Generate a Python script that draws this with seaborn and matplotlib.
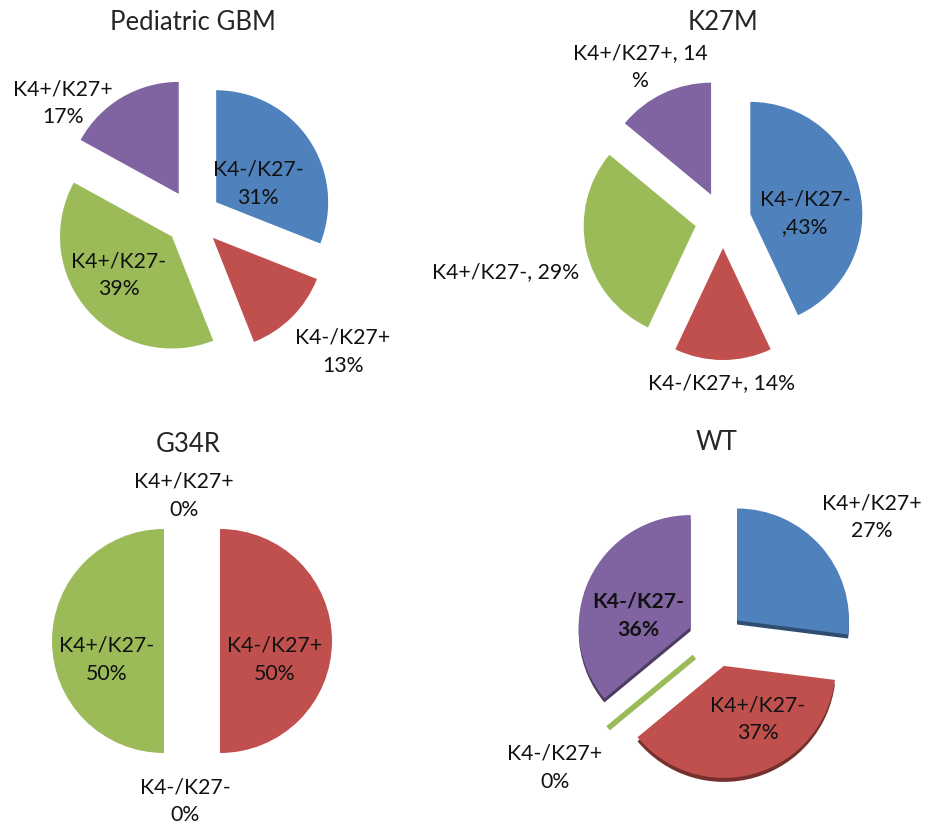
import matplotlib.pyplot as plt
import seaborn as sns

sns.set_theme(style='white')
plt.rcParams['font.family'] = ['Lato', 'DejaVu Sans']

# data
categories = ['K4-/K27-', 'K4-/K27+', 'K4+/K27-', 'K4+/K27+']
gbm_values = [31, 13, 39, 17]
k27m_values = [43, 14, 29, 14]
g34r_values = [0, 50, 50, 0]
wt_categories = ['K4+/K27+', 'K4+/K27-', 'K4-/K27+', 'K4-/K27-']
wt_values = [27, 37, 0, 36]
titles = ['Pediatric GBM', 'K27M', 'G34R', 'WT']

palette = sns.color_palette(['#4F81BD', '#C0504D', '#9BBB59', '#8064A2'])
dark_palette = [tuple(v * 0.6 for v in c) for c in palette]

W, H = 933, 826
R = 112
EXPLODE = 28
LABEL_SIZE = 15.3
TITLE_SIZE = 18.5


def draw_pie(ax, values, cx, cy, colors=palette, zero_line=False):
    wedges, _ = ax.pie(values, colors=colors, startangle=90, counterclock=False,
                       explode=[EXPLODE] * len(values), radius=R, center=(cx, H - cy),
                       wedgeprops=dict(linewidth=0))
    if zero_line:
        for w, v, c in zip(wedges, values, colors):
            if v == 0:
                w.set_edgecolor(c)
                w.set_linewidth(4)
    return wedges


def label(ax, x, y, s, **kw):
    ax.text(x, H - y, s, ha='center', va='center', fontsize=LABEL_SIZE,
            color='#111111', linespacing=1.5, **kw)


fig = plt.figure(figsize=(W / 100, H / 100), dpi=100)
ax = fig.add_axes([0, 0, 1, 1])

# Pediatric GBM
draw_pie(ax, gbm_values, 193, 218)
ax.text(193, H - 22, titles[0], ha='center', va='center', fontsize=TITLE_SIZE)
label(ax, 258, 184, '{}\n{}%'.format(categories[0], gbm_values[0]))
label(ax, 343, 352, '{}\n{}%'.format(categories[1], gbm_values[1]))
label(ax, 119, 275, '{}\n{}%'.format(categories[2], gbm_values[2]))
label(ax, 63, 103, '{}\n{}%'.format(categories[3], gbm_values[3]))

# K27M
draw_pie(ax, k27m_values, 723, 220)
ax.text(723, H - 22, titles[1], ha='center', va='center', fontsize=TITLE_SIZE)
label(ax, 805, 213, '{}\n,{}%'.format(categories[0], k27m_values[0]))
label(ax, 722, 383, '{}, {}%'.format(categories[1], k27m_values[1]))
label(ax, 506, 272, '{}, {}%'.format(categories[2], k27m_values[2]))
label(ax, 640, 67, '{}, {}\n%'.format(categories[3], k27m_values[3]))

# G34R
draw_pie(ax, g34r_values, 192, 641)
ax.text(188, H - 445, titles[2], ha='center', va='center', fontsize=TITLE_SIZE)
label(ax, 185, 801, '{}\n{}%'.format(categories[0], g34r_values[0]))
label(ax, 275, 660, '{}\n{}%'.format(categories[1], g34r_values[1]))
label(ax, 107, 660, '{}\n{}%'.format(categories[2], g34r_values[2]))
label(ax, 184, 496, '{}\n{}%'.format(categories[3], g34r_values[3]))

# WT (slight 3d look: darker copy underneath)
draw_pie(ax, wt_values, 716, 643, colors=dark_palette)
draw_pie(ax, wt_values, 716, 639, zero_line=True)
ax.text(717, H - 443, titles[3], ha='center', va='center', fontsize=TITLE_SIZE)
label(ax, 872, 517, '{}\n{}%'.format(wt_categories[0], wt_values[0]))
label(ax, 758, 719, '{}\n{}%'.format(wt_categories[1], wt_values[1]))
label(ax, 555, 768, '{}\n{}%'.format(wt_categories[2], wt_values[2]))
label(ax, 638, 616, '{}\n{}%'.format(wt_categories[3], wt_values[3]), fontweight='bold')

ax.set_xlim(0, W)
ax.set_ylim(0, H)
ax.axis('off')
fig.savefig('out.png', dpi=100, facecolor='white')
